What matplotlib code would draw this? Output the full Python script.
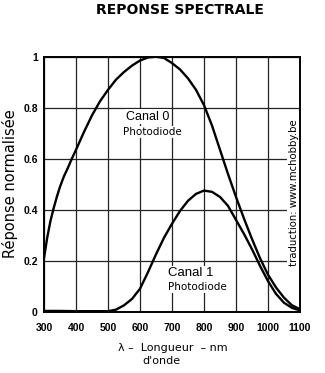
import matplotlib
matplotlib.use("Agg")
import matplotlib.pyplot as plt

# wavelength (nm) and normalised responses
wavelength0 = [300, 310, 320, 330, 340, 350, 362, 375, 387, 400, 425, 450,
               475, 500, 525, 550, 575, 600, 625, 650, 675, 700, 725, 750,
               775, 800, 825, 850, 875, 900, 925, 950, 975, 1000, 1025,
               1050, 1075, 1100]
canal0 = [0.21, 0.29, 0.355, 0.405, 0.45, 0.49, 0.53, 0.565, 0.60, 0.635,
          0.705, 0.77, 0.825, 0.87, 0.91, 0.94, 0.965, 0.985, 0.997, 1.0,
          0.995, 0.975, 0.95, 0.915, 0.87, 0.81, 0.73, 0.635, 0.54, 0.45,
          0.365, 0.285, 0.21, 0.145, 0.095, 0.055, 0.025, 0.01]

wavelength1 = [300, 350, 400, 450, 500, 525, 550, 575, 600, 625, 650, 675,
               700, 725, 750, 775, 800, 825, 850, 875, 900, 925, 950, 975,
               1000, 1025, 1050, 1075, 1100]
canal1 = [0.003, 0.003, 0.002, 0.002, 0.002, 0.008, 0.025, 0.05, 0.09,
          0.155, 0.225, 0.29, 0.345, 0.395, 0.435, 0.462, 0.475, 0.47,
          0.45, 0.415, 0.36, 0.305, 0.245, 0.18, 0.12, 0.07, 0.035, 0.015,
          0.005]

xticks = [300, 400, 500, 600, 700, 800, 900, 1000, 1100]
yticks = [0, 0.2, 0.4, 0.6, 0.8, 1]
ylabels = ["0", "0.2", "0.4", "0.6", "0.8", "1"]

W, H = 325, 373
fig = plt.figure(figsize=(W / 100, H / 100), dpi=100)
ax = fig.add_axes([44 / W, 61.3 / H, 256 / W, 255 / H])

ax.plot(wavelength0, canal0, color="black", lw=1.7, zorder=4,
        solid_joinstyle="round")
ax.plot(wavelength1, canal1, color="black", lw=1.7, zorder=4,
        solid_joinstyle="round")

ax.set_xlim(300, 1100)
ax.set_ylim(0, 1)
ax.set_xticks(xticks)
ax.set_yticks(yticks)
ax.set_yticklabels(ylabels)
ax.tick_params(length=0)
ax.tick_params(axis="x", pad=8)
ax.tick_params(axis="y", pad=4.5)
for lab in ax.get_xticklabels() + ax.get_yticklabels():
    lab.set_fontweight("bold")
    lab.set_fontfamily("Liberation Sans")
    lab.set_fontsize(7.5)
ax.grid(True, color="#222222", lw=0.9, zorder=1)
ax.set_axisbelow(True)
for s in ax.spines.values():
    s.set_linewidth(1.4)
    s.set_zorder(5)

box = dict(facecolor="white", edgecolor="none", pad=1.0)
ax.text(625, 0.765, "Canal 0", fontsize=9, family="Liberation Sans",
        ha="center", va="center", bbox=box, zorder=3)
ax.text(640, 0.705, "Photodiode", fontsize=7.5, ha="center", va="center",
        bbox=box, zorder=3)
ax.text(760, 0.15, "Canal 1", fontsize=9.5, family="Liberation Sans",
        ha="center", va="center", bbox=box, zorder=3)
ax.text(780, 0.098, "Photodiode", fontsize=7.5, ha="center", va="center",
        bbox=box, zorder=3)
ax.text(1080, 0.465, "traduction: www.mchobby.be", fontsize=7.3,
        rotation=90, ha="center", va="center", bbox=box, zorder=3)

fig.text(180 / W, 1 - 9.5 / H, "REPONSE SPECTRALE", fontsize=10,
         fontweight="bold", ha="center", va="center")
fig.text(10 / W, 1 - 184 / H, "Réponse normalisée", fontsize=10.5,
         rotation=90, ha="center", va="center")
fig.text(173 / W, 1 - 348 / H, "λ –  Longueur  – nm", fontsize=8,
         ha="center", va="center")
fig.text(161 / W, 1 - 361 / H, "d'onde", fontsize=8, ha="center",
         va="center")

fig.savefig("out.png", dpi=100)
